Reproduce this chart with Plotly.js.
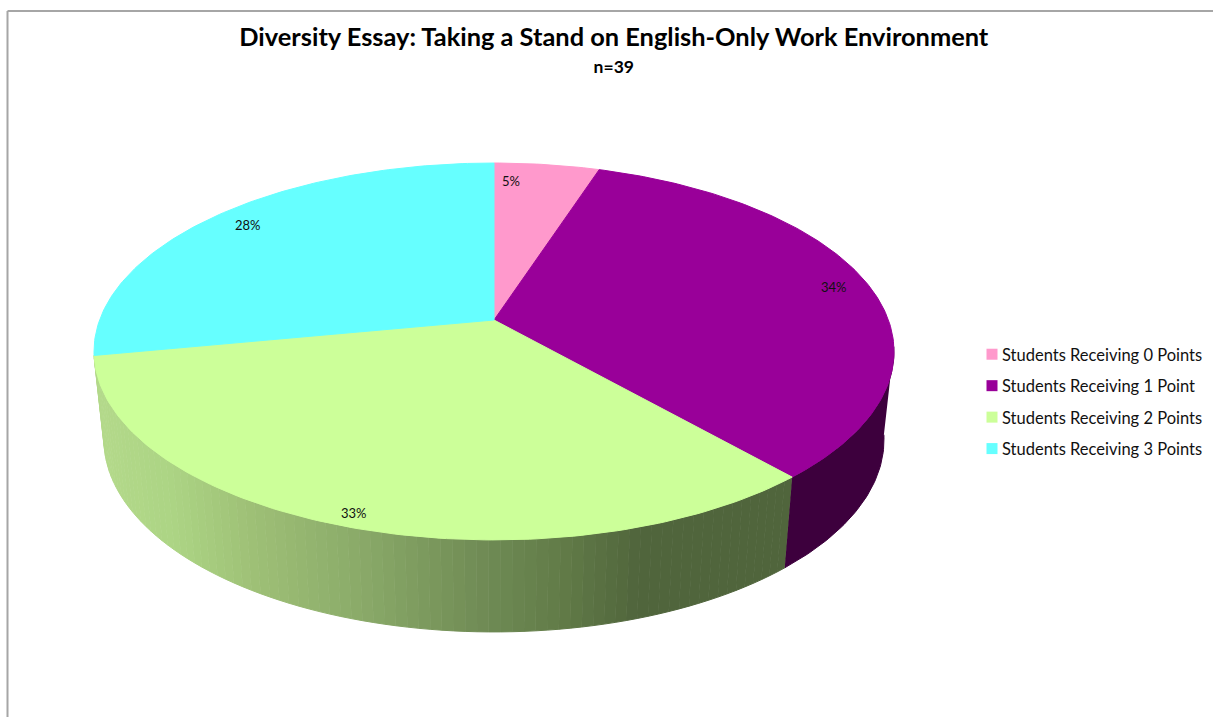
<!DOCTYPE html>
<html>
<head>
<meta charset="utf-8">
<title>Diversity Essay</title>
<script src="https://cdn.plot.ly/plotly-3.0.1.min.js"></script>
<style>
  html, body { margin: 0; padding: 0; background: #fff; }
  #chart { width: 1213px; height: 717px; }
  /* Pull the swatches closer to their legend text */
  #chart .legend .legendpoints { transform: translateX(10px); }
</style>
</head>
<body>
<div id="chart"></div>
<script>
// Score distribution, percent of students
const categories = ['Students Receiving 0 Points', 'Students Receiving 1 Point', 'Students Receiving 2 Points', 'Students Receiving 3 Points'];
const shares = [5, 34, 33, 28];

// Slice colours, top face and side wall
const faceColors = ['#FF99CC', '#990099', '#CCFF99', '#66FFFF'];
const purpleWall = '#3D003D';

// Shading of the green wall, left to right along the screen
const shadeX = [100, 170, 250, 350, 480, 560, 640, 800];
const shadeR = [179, 172, 158, 140, 112, 98, 80, 80];
const shadeG = [217, 212, 192, 172, 140, 124, 101, 101];
const shadeB = [138, 132, 118, 106, 85, 72, 60, 60];

// Where the percent labels sit
const labelX = [511, 834, 354, 248];
const labelY = [181, 287, 513, 225];

// Tilted-disc projection around the pie centre
const apex = { x: 494, y: 320 };
const spanX = 394.4, spanY = 183.2, tilt = 0.167;
const wallScaleX = 0.975, wallScaleY = 1.02, wallDrop = 87.6;
const rightTangent = 27.7; // rim position where the right silhouette starts

// The front-right of the disc is foreshortened a little more than the rest
function bend(pct) {
  return pct > 5 && pct < 72 ? -0.5 * Math.sin(Math.PI * (pct - 5) / 67) : 0;
}
function rim(pct) {
  const a = (pct + bend(pct)) / 100 * 2 * Math.PI;
  const u = Math.sin(a), v = Math.cos(a);
  const d = 1 + tilt * v;
  return { x: apex.x + spanX * u / d, y: apex.y - spanY * v / d };
}
function lower(p) {
  return {
    x: apex.x + (p.x - apex.x) * wallScaleX,
    y: apex.y + (p.y - apex.y) * wallScaleY + wallDrop
  };
}
function shadeAt(x) {
  let i = 0;
  while (i < shadeX.length - 2 && x > shadeX[i + 1]) i++;
  const f = Math.min(1, Math.max(0, (x - shadeX[i]) / (shadeX[i + 1] - shadeX[i])));
  const mix = c => Math.round(c[i] + (c[i + 1] - c[i]) * f);
  return `rgb(${mix(shadeR)},${mix(shadeG)},${mix(shadeB)})`;
}
function patch(pts, color) {
  return {
    x: pts.map(p => p.x), y: pts.map(p => p.y),
    type: 'scatter', mode: 'lines', fill: 'toself', fillcolor: color,
    line: { color: color, width: 1 }, hoverinfo: 'skip', showlegend: false
  };
}
function rimRun(from, to, step) {
  const pts = [];
  const n = Math.max(1, Math.ceil((to - from) / step));
  for (let k = 0; k <= n; k++) pts.push(rim(from + (to - from) * k / n));
  return pts;
}
function wallBand(from, to, color) {
  const top = rimRun(from, to, 0.25);
  return patch(top.concat(top.map(lower).reverse()), color);
}

const traces = [];
const end1 = shares[0] + shares[1], end2 = end1 + shares[2];

// Side walls first, the top face is laid over them
traces.push(wallBand(rightTangent, end1, purpleWall));
const bandStep = 0.4;
for (let t = end1; t < end2 - 1e-9; t += bandStep) {
  const next = Math.min(t + bandStep, end2);
  traces.push(wallBand(t, next, shadeAt(rim((t + next) / 2).x)));
}

// Top face
let run = 0;
shares.forEach((s, i) => {
  const pts = [{ x: apex.x, y: apex.y }].concat(rimRun(run, run + s, 0.25));
  pts.push({ x: apex.x, y: apex.y });
  traces.push(patch(pts, faceColors[i]));
  run += s;
});

// Legend entries
categories.forEach((name, i) => {
  traces.push({
    x: [null], y: [null], type: 'scatter', mode: 'markers', name: name,
    legendgroup: 'g' + i,
    marker: { symbol: 'square', size: 11, color: faceColors[i] }, hoverinfo: 'skip'
  });
});

const border = { color: '#A6A6A6', width: 2 };
const layout = {
  width: 1213, height: 717,
  margin: { l: 0, r: 0, t: 0, b: 0 },
  paper_bgcolor: '#fff', plot_bgcolor: '#fff',
  font: { family: 'Lato, sans-serif', color: '#111' },
  hovermode: false,
  title: {
    text: '<span style="font-size:25.4px"><b>Diversity Essay: Taking a Stand on English-Only Work Environment</b></span><br><span style="font-size:17.5px"><b>n=39</b></span>',
    font: { family: 'Lato, sans-serif', size: 21, color: '#000' },
    x: 0.506, xanchor: 'center', y: 1 - 46 / 717, yanchor: 'top'
  },
  xaxis: { range: [0, 1213], visible: false, fixedrange: true },
  yaxis: { range: [717, 0], visible: false, fixedrange: true },
  legend: {
    x: 962 / 1213, xanchor: 'left', y: 1 - 337 / 717, yanchor: 'top',
    traceorder: 'grouped', tracegroupgap: 7,
    font: { family: 'Lato, sans-serif', size: 16.5, color: '#111' },
    bgcolor: 'rgba(0,0,0,0)', borderwidth: 0
  },
  shapes: [
    { type: 'line', xref: 'paper', yref: 'paper', x0: 7.5 / 1213, x1: 1, y0: 1 - 11 / 717, y1: 1 - 11 / 717, line: border },
    { type: 'line', xref: 'paper', yref: 'paper', x0: 7.5 / 1213, x1: 7.5 / 1213, y0: 0, y1: 1 - 11 / 717, line: border }
  ],
  annotations: shares.map((s, i) => ({
    x: labelX[i], y: labelY[i], xref: 'x', yref: 'y', text: s + '%', showarrow: false,
    font: { family: 'Lato, sans-serif', size: 13, color: '#111' }
  }))
};

Plotly.newPlot('chart', traces, layout, { displayModeBar: false, staticPlot: true });
</script>
</body>
</html>
